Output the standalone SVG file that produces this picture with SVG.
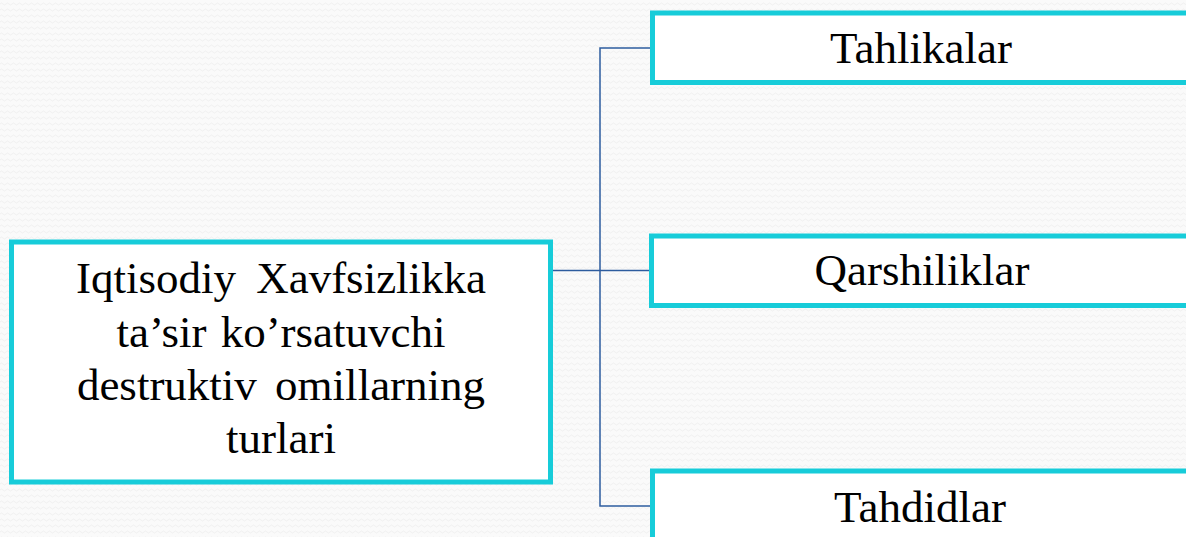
<svg xmlns="http://www.w3.org/2000/svg" width="1186" height="537" viewBox="0 0 1186 537">
  <defs>
    <pattern id="bg" width="6" height="6" patternUnits="userSpaceOnUse">
      <rect width="6" height="6" fill="#fafafa"/>
      <path d="M0 4 Q1.5 2 3 4 T6 4" fill="none" stroke="#f1f1f1" stroke-width="1"/>
    </pattern>
  </defs>
  <style>
    .box { fill: #ffffff; stroke: #17ccd9; stroke-width: 5; }
    .conn { fill: none; stroke: #2d5c9e; stroke-width: 1.5; }
    .t { font-family: "Liberation Serif", "Times New Roman", serif; font-size: 45px; fill: #000000; text-anchor: middle; }
  </style>
  <rect width="1186" height="537" fill="url(#bg)"/>
  <g id="connectors">
    <path class="conn" d="M553 270.5 H650"/>
    <path class="conn" d="M600 270.5 V48 H650"/>
    <path class="conn" d="M600 270.5 V506 H650"/>
  </g>
  <g id="node-main">
    <rect class="box" x="11.5" y="242" width="539" height="240"/>
    <text class="t" x="281" y="293" word-spacing="9">Iqtisodiy Xavfsizlikka</text>
    <text class="t" x="281" y="347" word-spacing="3">ta’sir ko’rsatuvchi</text>
    <text class="t" x="281" y="400" word-spacing="7">destruktiv omillarning</text>
    <text class="t" x="281" y="453">turlari</text>
  </g>
  <g id="node-tahlikalar">
    <rect class="box" x="652.5" y="13" width="540" height="69.5"/>
    <text class="t" x="921" y="63">Tahlikalar</text>
  </g>
  <g id="node-qarshiliklar">
    <rect class="box" x="651.5" y="236" width="540" height="69.5"/>
    <text class="t" x="922" y="285">Qarshiliklar</text>
  </g>
  <g id="node-tahdidlar">
    <rect class="box" x="652.5" y="471" width="540" height="75"/>
    <text class="t" x="920" y="521.5">Tahdidlar</text>
  </g>
</svg>
